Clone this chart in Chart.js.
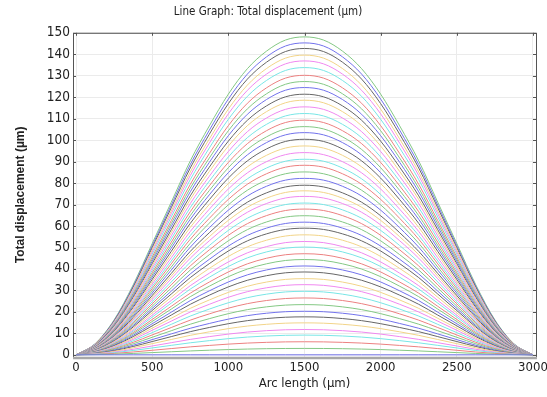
<!DOCTYPE html>
<html>
<head>
<meta charset="utf-8">
<script src="https://cdn.jsdelivr.net/npm/chart.js@4/dist/chart.umd.min.js"></script>
<style>
  html, body { margin: 0; padding: 0; background: #fff; }
  #wrap { width: 547px; height: 397px; }
</style>
</head>
<body>
<div id="wrap"><canvas id="c" width="547" height="397"></canvas></div>
<script>
// arc length positions (um) where the profile was read
var arcPos = [0, 125, 250, 375, 500, 625, 750, 875, 1000, 1125, 1250, 1375, 1500,
              1625, 1750, 1875, 2000, 2125, 2250, 2375, 2500, 2625, 2750, 2875, 3000];
// shape of the top curve, relative to its peak
var profile = [0, 0.035, 0.11, 0.22, 0.35, 0.48, 0.61, 0.72, 0.82, 0.90, 0.955, 0.99, 1,
               0.99, 0.955, 0.90, 0.82, 0.72, 0.61, 0.48, 0.35, 0.22, 0.11, 0.035, 0];
// peak displacement (um) of each curve at 1500 um, bottom to top
var peaks = [0, 3.0, 6.1, 9.2, 11.8, 14.9, 17.7, 20.3, 23.4, 26.5, 29.6, 32.7, 35.5,
             38.6, 41.4, 44.4, 47.1, 50.2, 52.8, 55.9, 59.0, 61.8, 64.8, 67.9, 70.7,
             73.8, 76.4, 79.0, 82.2, 85.2, 88.3, 91.1, 94.2, 97.3, 100.4, 103.5, 106.3,
             109.3, 112.4, 115.5, 118.6, 121.4, 124.5, 127.3, 130.2, 133.8, 136.9,
             139.6, 142.7, 145.3, 148.1];
var xTicks = [0, 500, 1000, 1500, 2000, 2500, 3000];
var yTicks = [0, 10, 20, 30, 40, 50, 60, 70, 80, 90, 100, 110, 120, 130, 140, 150];
var palette = ['#7272ec', '#84c884', '#ec8080', '#78e6e6', '#f088f0', '#f2d488', '#666666'];

var condensed = '"DejaVu Sans Condensed", "Liberation Sans Narrow", "DejaVu Sans", sans-serif';

var datasets = peaks.map(function (pk, i) {
    return {
        label: 'curve ' + (i + 1),
        data: arcPos.map(function (x, j) { return { x: x, y: pk * profile[j] }; }),
        borderColor: palette[i % palette.length],
        borderWidth: 1,
        pointRadius: 0,
        cubicInterpolationMode: 'monotone',
        fill: false
    };
});

// frame round the plot area, as in the original
var framePlugin = {
    id: 'frame',
    afterDraw: function (chart) {
        var a = chart.chartArea, ctx = chart.ctx;
        ctx.save();
        ctx.strokeStyle = '#555';
        ctx.lineWidth = 1;
        ctx.strokeRect(a.left + 0.5, a.top + 0.5, a.right - a.left, a.bottom - a.top);
        ctx.strokeStyle = '#a8a8a8';
        ctx.lineWidth = 2.5;
        ctx.beginPath();
        ctx.moveTo(a.left, a.bottom + 1);
        ctx.lineTo(a.right + 1, a.bottom + 1);
        ctx.stroke();
        // small inward ticks on the sides
        ctx.strokeStyle = '#555';
        ctx.lineWidth = 1;
        var ys = chart.scales.y;
        yTicks.forEach(function (v) {
            var py = Math.round(ys.getPixelForValue(v)) + 0.5;
            ctx.beginPath();
            ctx.moveTo(a.left, py); ctx.lineTo(a.left + 3, py);
            ctx.moveTo(a.right, py); ctx.lineTo(a.right - 3, py);
            ctx.stroke();
        });
        var xs = chart.scales.x;
        xTicks.forEach(function (v) {
            var px = Math.round(xs.getPixelForValue(v)) + 0.5;
            ctx.beginPath();
            ctx.moveTo(px, a.top); ctx.lineTo(px, a.top + 3);
            ctx.stroke();
        });
        ctx.restore();
    }
};

new Chart(document.getElementById('c'), {
    type: 'line',
    data: { datasets: datasets },
    plugins: [framePlugin],
    options: {
        responsive: false,
        animation: false,
        layout: { padding: { left: 0, right: 11, top: 0, bottom: 0 } },
        plugins: {
            legend: { display: false },
            tooltip: { enabled: false },
            title: {
                display: true,
                text: 'Line Graph: Total displacement (µm)',
                color: '#222',
                font: { family: condensed, size: 11.5, weight: 'normal' },
                padding: { top: 5, bottom: 14 }
            }
        },
        scales: {
            x: {
                type: 'linear',
                min: -20,
                max: 3020,
                afterBuildTicks: function (s) { s.ticks = xTicks.map(function (v) { return { value: v }; }); },
                afterFit: function (s) { s.height = 40; s.paddingLeft = 0; s.paddingRight = 0; },
                ticks: {
                    color: '#222', font: { family: condensed, size: 13 }, padding: 3, maxRotation: 0,
                    callback: function (v) { return String(v); }
                },
                grid: { color: '#ebebeb', drawTicks: false },
                border: { display: false },
                title: {
                    display: true,
                    text: 'Arc length (µm)',
                    color: '#222',
                    font: { family: condensed, size: 13 },
                    padding: { top: 0, bottom: 6 }
                }
            },
            y: {
                min: -1,
                max: 150,
                afterBuildTicks: function (s) { s.ticks = yTicks.map(function (v) { return { value: v }; }); },
                afterFit: function (s) { s.width = 73; },
                ticks: { color: '#222', font: { family: condensed, size: 13.5 }, padding: 3 },
                grid: { color: '#ebebeb', drawTicks: false },
                border: { display: false },
                title: {
                    display: true,
                    text: 'Total displacement (µm)',
                    color: '#222',
                    font: { family: '"Liberation Sans", Arial, sans-serif', size: 12, weight: 'bold' },
                    padding: { top: 13, bottom: 0 }
                }
            }
        }
    }
});
</script>
</body>
</html>
